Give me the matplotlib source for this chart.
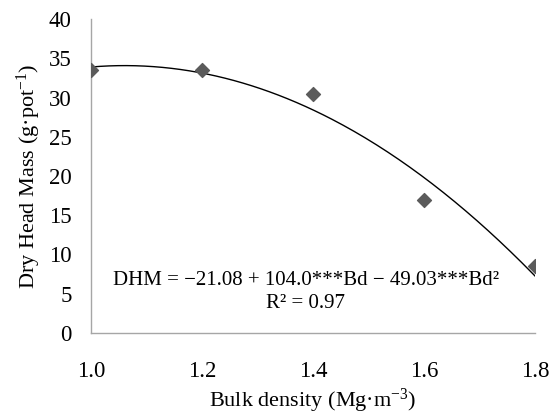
import numpy as np
import matplotlib
matplotlib.use('Agg')
import matplotlib.pyplot as plt

plt.rcParams['font.family'] = ['Liberation Serif', 'DejaVu Serif']
plt.rcParams['mathtext.fontset'] = 'custom'
plt.rcParams['mathtext.rm'] = 'Liberation Serif'
plt.rcParams['mathtext.it'] = 'Liberation Serif:italic'

# data
bulk_density = [1.0, 1.2, 1.4, 1.6, 1.8]
dry_head_mass = [33.5, 33.5, 30.5, 16.9, 8.5]
# fitted quadratic from the chart's equation: b0 + b1*Bd + b2*Bd^2
coefs = [-21.08, 104.0, -49.03]
x_ticks = [1.0, 1.2, 1.4, 1.6, 1.8]
y_ticks = [0, 5, 10, 15, 20, 25, 30, 35, 40]

fig = plt.figure(figsize=(5.52, 4.15), dpi=100)
ax = fig.add_axes([0.165, 0.198, 0.804, 0.756])

xs = np.linspace(1.0, 1.8, 200)
ys = coefs[0] + coefs[1] * xs + coefs[2] * xs ** 2
ax.plot(xs, ys, color='black', lw=1.0, zorder=2)
ax.scatter(bulk_density, dry_head_mass, marker='D', s=50, color='#5b5b5b', zorder=3)

ax.set_xlim(1.0, 1.8)
ax.set_ylim(0, 40)
ax.set_xticks(x_ticks)
ax.set_xticklabels([f'{v:.1f}' for v in x_ticks])
ax.set_yticks(y_ticks)
ax.tick_params(axis='both', length=0, labelsize=16.5)
ax.tick_params(axis='x', pad=20)
ax.tick_params(axis='y', pad=14)

for s in ['top', 'right']:
    ax.spines[s].set_visible(False)
for s in ['left', 'bottom']:
    ax.spines[s].set_color('#a6a6a6')
    ax.spines[s].set_linewidth(1.0)

ax.set_xlabel('Bulk density (Mg·m$^{-3}$)', fontsize=16, labelpad=4)
ax.set_ylabel('Dry Head Mass (g·pot$^{-1}$)', fontsize=16, labelpad=4)

ax.text(1.387, 5.2, 'DHM = −21.08 + 104.0***Bd − 49.03***Bd²\nR² = 0.97',
        ha='center', va='center', fontsize=15, linespacing=1.3, multialignment='center')

fig.savefig('out.png', dpi=100)
